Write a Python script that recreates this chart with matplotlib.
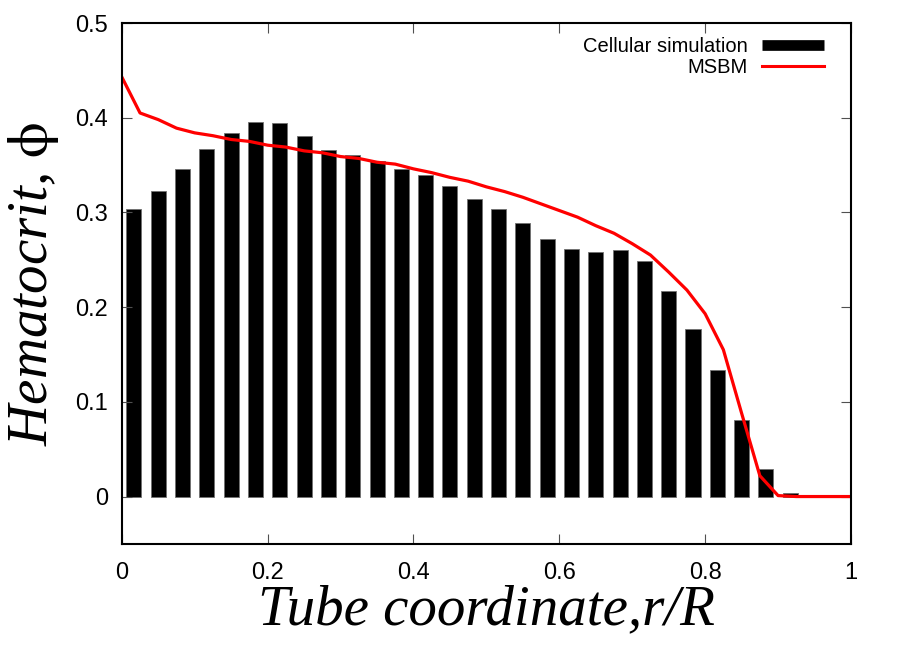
import matplotlib
matplotlib.use('Agg')
import matplotlib.pyplot as plt
from matplotlib.lines import Line2D
import numpy as np

# cellular simulation histogram (bins of width 1/30)
bin_centers = [(i + 0.5) / 30 for i in range(28)]
cell_phi = [0.304, 0.323, 0.346, 0.367, 0.384, 0.395, 0.394, 0.381, 0.366, 0.361,
            0.354, 0.346, 0.339, 0.328, 0.314, 0.304, 0.289, 0.272, 0.261, 0.258,
            0.260, 0.249, 0.217, 0.177, 0.134, 0.081, 0.029, 0.004]

# MSBM profile
msbm_r = [0.000, 0.025, 0.050, 0.075, 0.100, 0.125, 0.150, 0.175, 0.200, 0.225,
          0.250, 0.275, 0.300, 0.325, 0.350, 0.375, 0.400, 0.425, 0.450, 0.475,
          0.500, 0.525, 0.550, 0.575, 0.600, 0.625, 0.650, 0.675, 0.700, 0.725,
          0.750, 0.775, 0.800, 0.825, 0.850, 0.875, 0.900, 0.925, 0.950, 0.975, 1.000]
msbm_phi = [0.443, 0.405, 0.398, 0.389, 0.384, 0.381, 0.377, 0.375, 0.371, 0.369,
            0.365, 0.363, 0.359, 0.357, 0.353, 0.351, 0.346, 0.342, 0.337, 0.333,
            0.327, 0.322, 0.316, 0.309, 0.302, 0.295, 0.286, 0.278, 0.267, 0.255,
            0.237, 0.218, 0.193, 0.155, 0.088, 0.022, 0.001, 0.0, 0.0, 0.0, 0.0]

xticks = [0, 0.2, 0.4, 0.6, 0.8, 1]
xticklabels = ['0', '0.2', '0.4', '0.6', '0.8', '1']
yticks = [0, 0.1, 0.2, 0.3, 0.4, 0.5]
yticklabels = ['0', '0.1', '0.2', '0.3', '0.4', '0.5']

plt.rcParams['font.family'] = ['Liberation Sans', 'DejaVu Sans']
plt.rcParams['mathtext.fontset'] = 'stix'

fig = plt.figure(figsize=(8.97, 6.69), dpi=100)
ax = fig.add_axes([0.1358, 0.187, 0.8129, 0.7786])

ax.bar(bin_centers, cell_phi, width=0.0206, color='black', edgecolor='#707070', linewidth=0.6)
ax.plot(msbm_r, msbm_phi, color='#ff0000', linewidth=2.3)

ax.set_xlim(0, 1)
ax.set_ylim(-0.05, 0.5)
ax.set_xticks(xticks)
ax.set_xticklabels(xticklabels)
ax.set_yticks(yticks)
ax.set_yticklabels(yticklabels)
ax.tick_params(direction='in', length=7.5, width=0.8, color='#505050', labelsize=17,
               top=True, right=True, pad=10)
ax.tick_params(axis='x', pad=13)
for s in ax.spines.values():
    s.set_linewidth(1.5)

ax.set_xlabel('Tube coordinate,r/R', fontsize=41, family='Liberation Serif', style='italic', labelpad=0)
ax.set_ylabel(r'Hematocrit, $\mathrm{\phi}$', fontsize=41, family='Liberation Serif', style='italic', labelpad=10)

handles = [Line2D([], [], color='black', linewidth=7.7, solid_capstyle='butt'),
           Line2D([], [], color='#ff0000', linewidth=2.2)]
ax.legend(handles, ['Cellular simulation', 'MSBM'], loc='upper right', fontsize=14.5,
          frameon=False, markerfirst=False, handlelength=3.1, handletextpad=0.7,
          labelspacing=0.1, borderaxespad=0.0, bbox_to_anchor=(0.974, 0.988))

fig.savefig('out.png', dpi=100)
